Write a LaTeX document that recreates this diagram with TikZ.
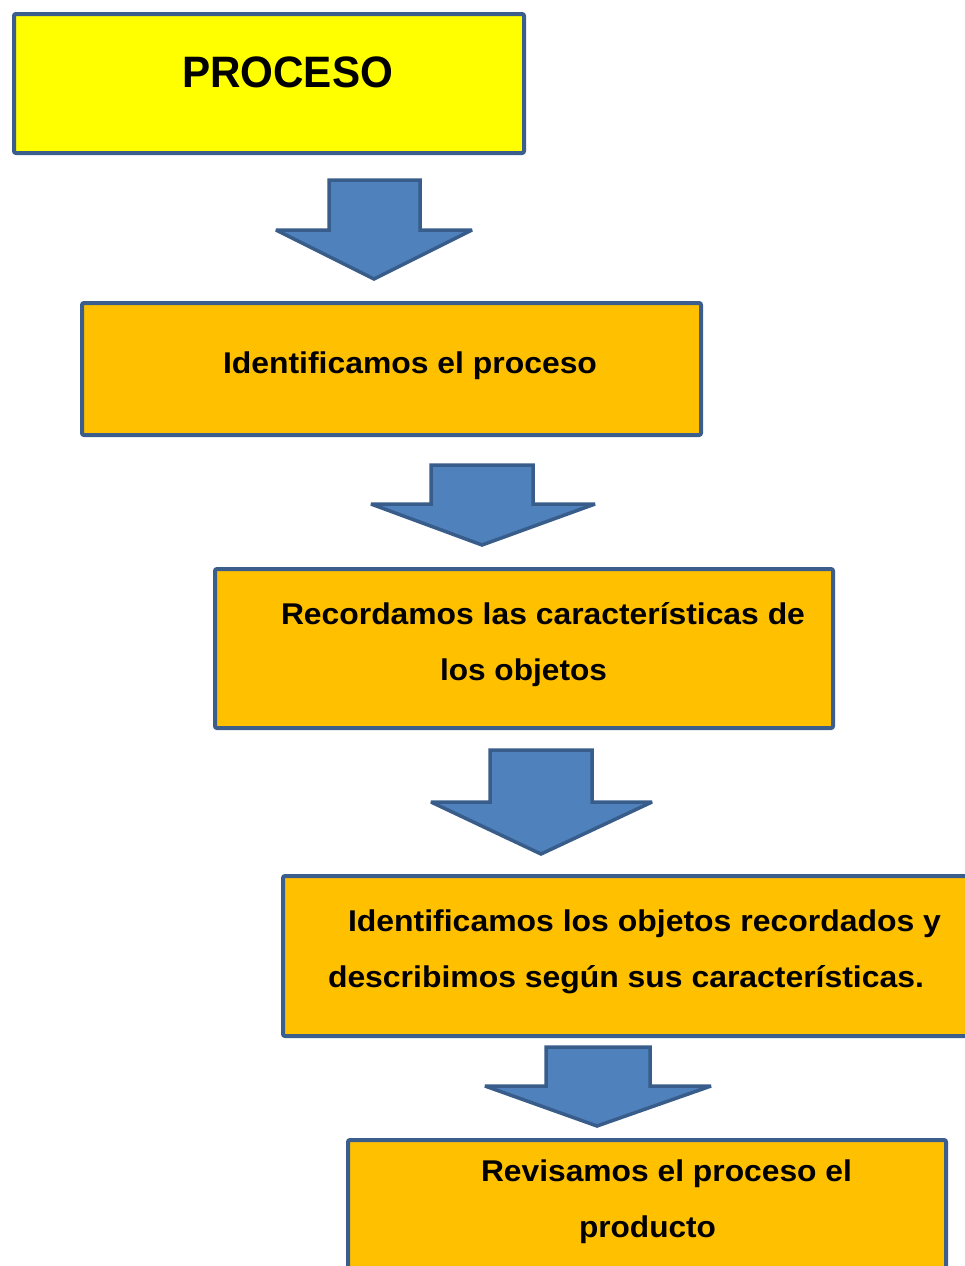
\documentclass[tikz,border=0pt]{standalone}
\usepackage{fontspec}
\setmainfont{Liberation Sans}
\usepackage{graphicx}
\definecolor{boxyellow}{HTML}{FFFF00}
\definecolor{boxorange}{HTML}{FFC000}
\definecolor{boxline}{HTML}{3B5E8C}
\definecolor{arrowfill}{HTML}{4F81BD}
\definecolor{arrowline}{HTML}{385D8A}
\newsavebox\fitbox
\newcommand\fitline[3]{\sbox\fitbox{\fontsize{#2}{#2}\selectfont\bfseries #3}\edef\fitw{\the\wd\fitbox}\pgfmathsetmacro\fitsx{#1/\fitw}\scalebox{\fitsx}[1]{\usebox\fitbox}}
\tikzset{
  stepbox/.style={draw=boxline, line width=4pt, rounded corners=2pt, anchor=north west, inner sep=0pt, outer sep=0pt},
  yellowbox/.style={stepbox, fill=boxyellow},
  orangebox/.style={stepbox, fill=boxorange},
  txt/.style={anchor=base west, inner sep=0pt, outer sep=0pt},
  blockarrow/.style={draw=arrowline, fill=arrowfill, line width=3.5pt, line join=miter, miter limit=3}
}
\begin{document}
\begin{tikzpicture}[x=1pt,y=-1pt]
\useasboundingbox (0,0) rectangle (965,1266);
\clip (0,0) rectangle (965,1266);
% boxes
\node[yellowbox, minimum width=510pt, minimum height=139pt] (b1) at (14,14) {};
\node[orangebox, minimum width=619pt, minimum height=132pt] (b2) at (82,303) {};
\node[orangebox, minimum width=618pt, minimum height=159pt] (b3) at (215,569) {};
\node[orangebox, minimum width=700pt, minimum height=160pt] (b4) at (283,876) {};
\node[orangebox, minimum width=598pt, minimum height=160pt] (b5) at (348,1140) {};
% texts
\node[txt] (t1) at (182,87) {\fitline{211}{44pt}{PROCESO}};
\node[txt] (t2) at (223,373) {\fitline{374}{30pt}{Identificamos el proceso}};
\node[txt] (t3a) at (281,624) {\fitline{524}{30pt}{Recordamos las características de}};
\node[txt] (t3b) at (440,680) {\fitline{167}{30pt}{los objetos}};
\node[txt] (t4a) at (348,931) {\fitline{593}{30pt}{Identificamos los objetos recordados y}};
\node[txt] (t4b) at (328,987) {\fitline{596}{30pt}{describimos según sus características.}};
\node[txt] (t5a) at (481,1181) {\fitline{371}{30pt}{Revisamos el proceso el}};
\node[txt] (t5b) at (579,1237) {\fitline{137}{30pt}{producto}};
% block arrows
\draw[blockarrow] (329,180) -- (420,180) -- (420,230) -- (472,230) -- (374,279) -- (276,230) -- (329,230) -- cycle;
\draw[blockarrow] (431,465) -- (533,465) -- (533,504) -- (595,504) -- (482,545) -- (371,504) -- (431,504) -- cycle;
\draw[blockarrow] (490,750) -- (592,750) -- (592,802) -- (652,802) -- (541,854) -- (431,802) -- (490,802) -- cycle;
\draw[blockarrow] (546,1047) -- (650,1047) -- (650,1086) -- (711,1086) -- (597,1126) -- (485,1086) -- (546,1086) -- cycle;
\end{tikzpicture}
\end{document}
